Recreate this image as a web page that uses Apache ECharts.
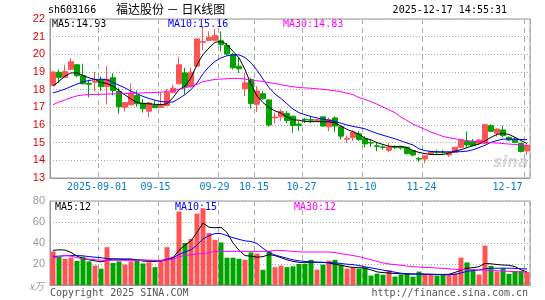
<!DOCTYPE html>
<html>
<head>
<meta charset="utf-8">
<title>sh603166</title>
<script src="https://cdn.jsdelivr.net/npm/echarts@6/dist/echarts.min.js"></script>
<style>
  html, body { margin: 0; padding: 0; background: #fff; }
  #chart { width: 545px; height: 300px; }
</style>
</head>
<body>
<div id="chart"></div>
<script>
var dates = [
  '2025-08-20','2025-08-21','2025-08-22','2025-08-25','2025-08-26','2025-08-27','2025-08-28','2025-08-29',
  '2025-09-01','2025-09-02','2025-09-03','2025-09-04','2025-09-05','2025-09-08','2025-09-09','2025-09-10',
  '2025-09-11','2025-09-12','2025-09-15','2025-09-16','2025-09-17','2025-09-18','2025-09-19','2025-09-22',
  '2025-09-23','2025-09-24','2025-09-25','2025-09-26','2025-09-29','2025-09-30','2025-10-09','2025-10-10',
  '2025-10-13','2025-10-14','2025-10-15','2025-10-16','2025-10-17','2025-10-20','2025-10-21','2025-10-22',
  '2025-10-23','2025-10-24','2025-10-27','2025-10-28','2025-10-29','2025-10-30','2025-10-31','2025-11-03',
  '2025-11-04','2025-11-05','2025-11-06','2025-11-07','2025-11-10','2025-11-11','2025-11-12','2025-11-13',
  '2025-11-14','2025-11-17','2025-11-18','2025-11-19','2025-11-20','2025-11-21','2025-11-24','2025-11-25',
  '2025-11-26','2025-11-27','2025-11-28','2025-12-01','2025-12-02','2025-12-03','2025-12-04','2025-12-05',
  '2025-12-08','2025-12-09','2025-12-10','2025-12-11','2025-12-12','2025-12-15','2025-12-16','2025-12-17'
];

var tickDates = ['2025-09-01','2025-09-15','2025-09-29','2025-10-15','2025-10-27','2025-11-10','2025-11-24','2025-12-17'];
var tickTexts = ['2025-09-01','09-15','09-29','10-15','10-27','11-10','11-24','12-17'];

var open = [
  18.25,18.98,18.70,19.15,19.41,18.79,18.35,18.42,18.57,18.17,
  18.68,17.89,17.01,17.14,17.67,17.23,16.78,17.12,17.00,17.10,
  17.85,18.33,18.95,18.20,19.33,20.68,20.79,20.80,20.77,20.51,
  19.99,19.33,18.05,18.58,17.17,17.77,17.42,16.40,16.46,16.65,
  16.50,16.05,16.32,16.30,16.26,16.46,15.90,16.40,15.90,15.20,
  15.30,15.50,15.22,15.00,14.82,14.76,14.57,14.74,14.76,14.74,
  14.55,14.10,14.08,14.36,14.47,14.47,14.30,14.45,14.74,15.07,
  15.07,14.96,14.96,15.96,15.53,15.72,15.30,15.20,14.96,14.53
];
var close = [
  19.00,18.70,19.02,19.58,18.79,18.33,18.30,18.46,18.17,18.60,
  17.95,17.03,17.27,17.80,17.20,16.92,17.25,16.98,17.12,17.85,
  18.08,19.41,18.17,18.99,20.87,20.72,20.96,21.07,20.55,20.02,
  19.24,19.18,18.39,17.21,17.92,17.49,16.00,16.45,16.76,16.25,
  15.97,15.98,16.28,16.27,16.30,15.94,16.30,15.94,15.37,15.23,
  15.60,15.18,14.93,14.98,14.78,14.73,14.76,14.72,14.70,14.38,
  14.30,14.07,14.26,14.50,14.44,14.44,14.45,14.74,15.15,14.87,
  14.83,15.15,16.02,15.64,15.77,15.40,15.15,15.02,14.50,14.85
];
var low = [
  18.20,18.38,18.65,19.10,18.70,18.30,17.57,17.90,17.93,17.16,
  17.67,16.64,16.77,17.10,17.03,16.70,16.45,16.95,16.98,17.08,
  17.80,18.30,17.74,18.10,19.30,20.23,20.75,20.75,20.17,19.95,
  19.14,18.95,17.64,16.93,16.74,17.42,15.90,16.08,16.23,16.10,
  15.57,15.66,16.10,16.10,16.20,15.90,15.65,15.60,15.18,14.99,
  15.09,15.10,14.74,14.76,14.51,14.60,14.46,14.64,14.60,14.32,
  14.22,13.90,13.83,14.30,14.30,14.30,14.20,14.44,14.72,14.74,
  14.80,14.90,14.95,15.60,15.34,15.30,15.10,14.98,14.45,14.30
];
var high = [
  19.02,19.15,19.41,19.80,19.45,19.47,18.57,19.00,18.75,19.33,
  18.93,18.12,17.30,18.36,17.96,17.48,17.30,17.40,17.85,18.04,
  18.27,19.85,19.24,19.24,20.90,21.58,21.30,21.43,21.30,20.64,
  20.08,19.86,18.95,18.67,18.20,17.92,17.45,16.70,16.89,16.80,
  16.52,16.20,16.40,16.45,16.35,16.48,16.42,16.50,15.92,15.41,
  15.71,15.66,15.37,15.14,14.99,14.90,14.99,14.84,14.80,14.76,
  14.60,14.20,14.30,14.52,14.58,14.58,14.50,14.76,15.17,15.64,
  15.20,15.22,16.02,16.05,15.80,15.96,15.35,15.30,15.00,14.88
];

var ma5 = [
  18.20,18.48,18.77,18.95,18.95,18.80,18.67,18.58,18.40,18.35,
  18.20,17.95,17.70,17.47,17.27,17.22,17.20,17.17,17.15,17.20,
  17.55,18.00,18.20,18.67,19.42,19.99,20.36,20.68,20.74,20.55,
  20.17,19.80,19.14,18.30,17.64,17.27,16.99,16.80,16.67,16.45,
  16.30,16.27,16.20,16.19,16.19,16.19,16.18,16.13,15.94,15.75,
  15.62,15.47,15.25,15.16,15.00,14.90,14.80,14.78,14.80,14.72,
  14.55,14.45,14.38,14.33,14.33,14.33,14.42,14.52,14.60,14.72,
  14.83,14.92,15.10,15.30,15.47,15.52,15.47,15.30,15.12,14.95
];
var ma10 = [
  17.82,17.92,18.03,18.18,18.32,18.44,18.52,18.57,18.60,18.55,
  18.42,18.25,18.10,17.92,17.77,17.62,17.50,17.40,17.33,17.30,
  17.30,17.50,17.72,18.00,18.38,18.90,19.30,19.60,19.80,19.92,
  19.97,19.97,19.82,19.52,19.10,18.60,18.12,17.75,17.50,17.20,
  16.90,16.70,16.58,16.48,16.40,16.33,16.27,16.20,16.10,16.00,
  15.92,15.86,15.78,15.65,15.52,15.42,15.32,15.22,15.10,14.98,
  14.87,14.65,14.55,14.50,14.49,14.48,14.48,14.48,14.49,14.52,
  14.60,14.72,14.85,15.02,15.12,15.20,15.20,15.20,15.18,15.17
];
var ma30 = [
  17.15,17.30,17.42,17.55,17.65,17.70,17.72,17.73,17.74,17.75,
  17.76,17.77,17.78,17.79,17.80,17.82,17.83,17.84,17.86,17.90,
  17.95,18.02,18.10,18.20,18.30,18.45,18.52,18.58,18.60,18.62,
  18.64,18.64,18.60,18.54,18.50,18.47,18.40,18.35,18.28,18.22,
  18.17,18.12,18.10,18.08,18.05,18.02,17.98,17.94,17.88,17.80,
  17.72,17.55,17.45,17.32,17.18,17.02,16.85,16.70,16.45,16.25,
  16.05,15.90,15.75,15.60,15.48,15.35,15.28,15.22,15.17,15.12,
  15.08,15.05,15.02,15.00,14.98,14.95,14.92,14.90,14.87,14.85
];

var volume = [
  32.0,27.0,25.0,26.0,23.0,27.0,22.5,18.5,15.5,36.0,
  21.0,22.5,19.5,22.5,23.5,20.5,21.5,17.0,23.0,36.0,
  27.0,70.0,40.0,44.0,68.0,73.0,49.5,43.0,40.5,26.0,
  26.0,25.0,24.0,31.0,30.0,14.5,32.5,17.0,18.5,17.0,
  17.8,20.0,20.3,24.0,14.6,19.4,23.2,24.0,19.4,15.6,
  17.0,15.6,16.8,9.0,10.8,9.8,14.0,8.0,9.8,10.8,
  8.0,12.8,10.6,10.0,9.0,9.6,10.0,11.0,26.0,21.5,
  14.8,10.0,37.5,18.2,12.8,16.0,10.6,13.3,13.3,12.5
];
var volMa5 = [
  33.0,33.5,33.3,31.0,27.5,25.2,24.0,23.0,22.0,23.5,
  24.8,24.8,24.8,24.8,24.0,22.8,22.5,22.5,23.0,24.0,
  26.0,33.0,38.0,42.0,50.0,59.0,55.0,54.5,55.0,50.0,
  40.0,33.0,28.0,27.5,26.5,27.0,29.0,28.0,26.0,24.0,
  22.5,21.6,21.6,21.6,21.6,21.5,21.0,19.8,18.8,17.5,
  16.8,16.5,16.0,14.5,12.5,11.8,11.4,11.0,10.6,10.5,
  10.4,10.4,10.2,10.2,10.1,10.1,10.2,12.0,14.0,16.0,
  16.5,17.5,20.5,20.2,19.5,19.0,18.8,17.5,14.5,12.5
];
var volMa10 = [
  27.3,27.5,27.8,28.0,28.0,27.8,27.0,26.5,26.0,25.2,
  24.8,24.5,24.2,24.1,24.0,23.8,23.5,23.3,23.3,24.5,
  26.0,29.0,31.5,33.5,38.0,44.0,47.0,49.0,49.0,47.0,
  45.0,43.5,42.0,41.5,39.5,35.0,31.0,28.5,27.0,25.5,
  24.0,23.0,22.5,22.0,21.8,21.6,21.4,21.0,20.5,19.8,
  19.4,18.5,17.3,16.3,15.3,14.2,13.2,12.2,11.2,10.8,
  10.5,10.4,10.3,10.2,10.0,9.8,9.8,10.2,11.5,13.0,
  13.8,14.3,15.5,16.0,16.0,16.0,16.0,15.8,15.5,15.2
];
var volMa30 = [
  25.5,27.0,28.3,27.5,26.0,25.0,24.5,24.0,23.6,23.5,
  23.5,23.5,23.5,23.5,23.5,23.5,23.5,23.5,23.5,23.8,
  24.2,27.0,28.0,28.8,29.5,30.0,31.0,32.0,32.0,32.0,
  32.0,32.0,32.0,32.0,32.0,32.0,32.0,33.0,33.0,32.5,
  32.0,31.5,31.4,31.4,31.4,31.4,31.4,30.8,29.8,29.0,
  28.0,27.0,25.5,24.0,22.5,21.0,20.0,19.4,18.8,18.0,
  17.5,17.1,16.8,16.5,16.2,15.8,15.4,15.0,14.8,14.6,
  14.5,14.3,14.2,14.0,13.6,13.3,13.0,12.7,12.4,12.2
];

var upColor = '#ff5454';
var downColor = '#00a300';
var gridGray = '#aaaaaa';
var monoFont = '"DejaVu Sans Mono", "Liberation Mono", monospace';

var kData = open.map(function (o, i) { return [o, close[i], low[i], high[i]]; });
var volData = volume.map(function (v, i) {
  var c = close[i] >= open[i] ? upColor : downColor;
  return { value: v, itemStyle: { color: c } };
});

function isTick(index, value) {
  return tickDates.indexOf(value) >= 0;
}

// shift labels a little to the left of the category centre, like the original
var labelPad = [8, 11, 13, 6, 7, 7, 7, 39];
var richStyles = {};
labelPad.forEach(function (p, k) {
  richStyles['t' + k] = {
    color: '#0a7cc8', fontSize: 10, fontFamily: monoFont, padding: [0, p, 0, 0]
  };
});

var chart = echarts.init(document.getElementById('chart'), null, { renderer: 'canvas' });

chart.setOption({
  animation: false,
  backgroundColor: '#fff',
  grid: [
    { left: 50, right: 15, top: 19, height: 159, show: true, borderColor: '#999', borderWidth: 1 },
    { left: 50, right: 15, top: 201, height: 84, show: true, borderColor: '#999', borderWidth: 1 }
  ],
  xAxis: [
    {
      type: 'category', gridIndex: 0, data: dates, boundaryGap: true,
      axisLine: { lineStyle: { color: '#999' } },
      axisTick: { show: false },
      axisLabel: {
        interval: isTick, margin: 4,
        formatter: function (value) {
          var k = tickDates.indexOf(value);
          return '{t' + k + '|' + tickTexts[k] + '}';
        },
        rich: richStyles
      },
      splitLine: { show: true, interval: isTick, lineStyle: { color: gridGray, type: [5, 4] } }
    },
    {
      type: 'category', gridIndex: 1, data: dates, boundaryGap: true,
      axisLine: { lineStyle: { color: '#999' } },
      axisTick: { show: false },
      axisLabel: { show: false },
      splitLine: { show: true, interval: isTick, lineStyle: { color: gridGray, type: [5, 4] } }
    }
  ],
  yAxis: [
    {
      type: 'value', gridIndex: 0, min: 13, max: 22, interval: 1,
      axisLine: { show: true, lineStyle: { color: '#999' } },
      axisTick: { show: false },
      axisLabel: { color: '#e60000', fontSize: 11, fontFamily: 'Liberation Sans, Arial', margin: 5 },
      splitLine: { lineStyle: { color: gridGray, type: [1, 2] } }
    },
    {
      type: 'value', gridIndex: 1, min: 0, max: 80, interval: 20,
      axisLine: { show: true, lineStyle: { color: '#999' } },
      axisTick: { show: false },
      axisLabel: {
        color: '#999', fontSize: 11, fontFamily: 'Liberation Sans, Arial', margin: 5,
        formatter: function (v) { return v === 0 ? '' : v; }
      },
      splitLine: { lineStyle: { color: gridGray, type: [1, 2] } }
    }
  ],
  series: [
    {
      name: 'K', type: 'candlestick', xAxisIndex: 0, yAxisIndex: 0,
      data: kData, barWidth: 5,
      itemStyle: { color: upColor, color0: downColor, borderColor: upColor, borderColor0: downColor, borderWidth: 1 }
    },
    { name: 'MA5', type: 'line', xAxisIndex: 0, yAxisIndex: 0, data: ma5, symbol: 'none',
      lineStyle: { color: '#000', width: 1 } },
    { name: 'MA10', type: 'line', xAxisIndex: 0, yAxisIndex: 0, data: ma10, symbol: 'none',
      lineStyle: { color: '#0000ff', width: 1 } },
    { name: 'MA30', type: 'line', xAxisIndex: 0, yAxisIndex: 0, data: ma30, symbol: 'none',
      lineStyle: { color: '#ff00ff', width: 1 } },
    {
      name: 'VOL', type: 'bar', xAxisIndex: 1, yAxisIndex: 1,
      data: volData, barWidth: 5
    },
    { name: 'VMA5', type: 'line', xAxisIndex: 1, yAxisIndex: 1, data: volMa5, symbol: 'none',
      lineStyle: { color: '#000', width: 1 } },
    { name: 'VMA10', type: 'line', xAxisIndex: 1, yAxisIndex: 1, data: volMa10, symbol: 'none',
      lineStyle: { color: '#0000ff', width: 1 } },
    { name: 'VMA30', type: 'line', xAxisIndex: 1, yAxisIndex: 1, data: volMa30, symbol: 'none',
      lineStyle: { color: '#ff00ff', width: 1 } }
  ],
  graphic: [
    { type: 'text', left: 48, top: 5, style: { text: 'sh603166', fill: '#000', font: '10px ' + monoFont } },
    { type: 'text', left: 116, top: 3, style: { text: '福达股份 － 日K线图', fill: '#000', font: '12px "Noto Sans CJK SC"' } },
    { type: 'text', right: 38, top: 5, style: { text: '2025-12-17 14:55:31', fill: '#000', font: '10px ' + monoFont } },
    { type: 'text', left: 52, top: 19, style: { text: 'MA5:14.93', fill: '#000', font: '10px ' + monoFont } },
    { type: 'text', left: 168, top: 19, style: { text: 'MA10:15.16', fill: '#0000ff', font: '10px ' + monoFont } },
    { type: 'text', left: 283, top: 19, style: { text: 'MA30:14.83', fill: '#ff00ff', font: '10px ' + monoFont } },
    { type: 'text', left: 55, top: 202, style: { text: 'MA5:12', fill: '#000', font: '10px ' + monoFont } },
    { type: 'text', left: 175, top: 202, style: { text: 'MA10:15', fill: '#0000ff', font: '10px ' + monoFont } },
    { type: 'text', left: 294, top: 202, style: { text: 'MA30:12', fill: '#ff00ff', font: '10px ' + monoFont } },
    { type: 'text', left: 29, top: 281, style: { text: 'x万', fill: '#999', font: 'italic 10px "Noto Sans CJK SC"' } },
    { type: 'text', left: 50, top: 288, style: { text: 'Copyright 2025 SINA.COM', fill: '#555', font: '10px ' + monoFont } },
    { type: 'text', right: 17, top: 288, style: { text: 'http://finance.sina.com.cn', fill: '#555', font: '10px ' + monoFont } },
    { type: 'text', right: 17, top: 156, style: { text: 'sina', fill: '#d8d8d8', font: 'italic bold 15px "DejaVu Sans"' } }
  ]
});
</script>
</body>
</html>
